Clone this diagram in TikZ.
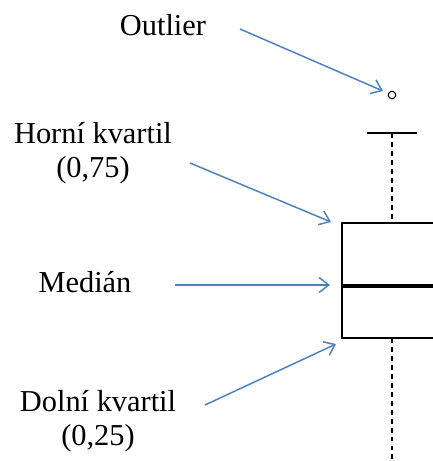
\documentclass[tikz,border=0pt]{standalone}
\usepackage{fontspec}
\setmainfont{Liberation Serif}
\usetikzlibrary{arrows.meta}
\definecolor{pointerblue}{RGB}{79,129,189}

\begin{document}
\begin{tikzpicture}[x=0.02cm, y=-0.02cm,
    pointer/.style={draw=pointerblue, line width=0.85pt, -{Straight Barb[length=5.5pt,width=8.5pt]}},
    lbl/.style={font=\fontsize{17.3}{19.3}\selectfont, align=center, inner sep=0pt, anchor=base}]
        \useasboundingbox (0,0) rectangle (433,461);
        \clip (0,0) rectangle (433,461);
        \draw[line width=1.1pt] (342,223) rectangle (460,338);
        \draw[line width=2.3pt] (342,286) -- (460,286);
        \draw[dashed, dash pattern=on 2.8pt off 2.3pt, line width=0.8pt] (392,133) -- (392,223);
        \draw[dashed, dash pattern=on 2.8pt off 2.3pt, line width=0.8pt] (392,338) -- (392,470);
        \draw[line width=0.9pt] (367,133) -- (417,133);
        \node[circle, draw, line width=0.6pt, inner sep=0pt, minimum size=0.15cm] (dot) at (392,95) {};
        \node[lbl] (outlier) at (163,35) {Outlier};
        \node[lbl] (upperq) at (93,177) {Horní kvartil\\(0,75)};
        \node[lbl] (median) at (85,292) {Medián};
        \node[lbl] (lowerq) at (98,445) {Dolní kvartil\\(0,25)};
        \coordinate (outlier-from) at (240,29);
        \coordinate (outlier-to) at (383,91);
        \coordinate (upperq-from) at (190,163);
        \coordinate (upperq-to) at (331,222);
        \coordinate (median-from) at (175,285);
        \coordinate (median-to) at (330,285);
        \coordinate (lowerq-from) at (205,405);
        \coordinate (lowerq-to) at (336,344);
        \draw[pointer] (outlier-from) -- (outlier-to);
        \draw[pointer] (upperq-from) -- (upperq-to);
        \draw[pointer] (median-from) -- (median-to);
        \draw[pointer] (lowerq-from) -- (lowerq-to);
    \end{tikzpicture}
\end{document}
